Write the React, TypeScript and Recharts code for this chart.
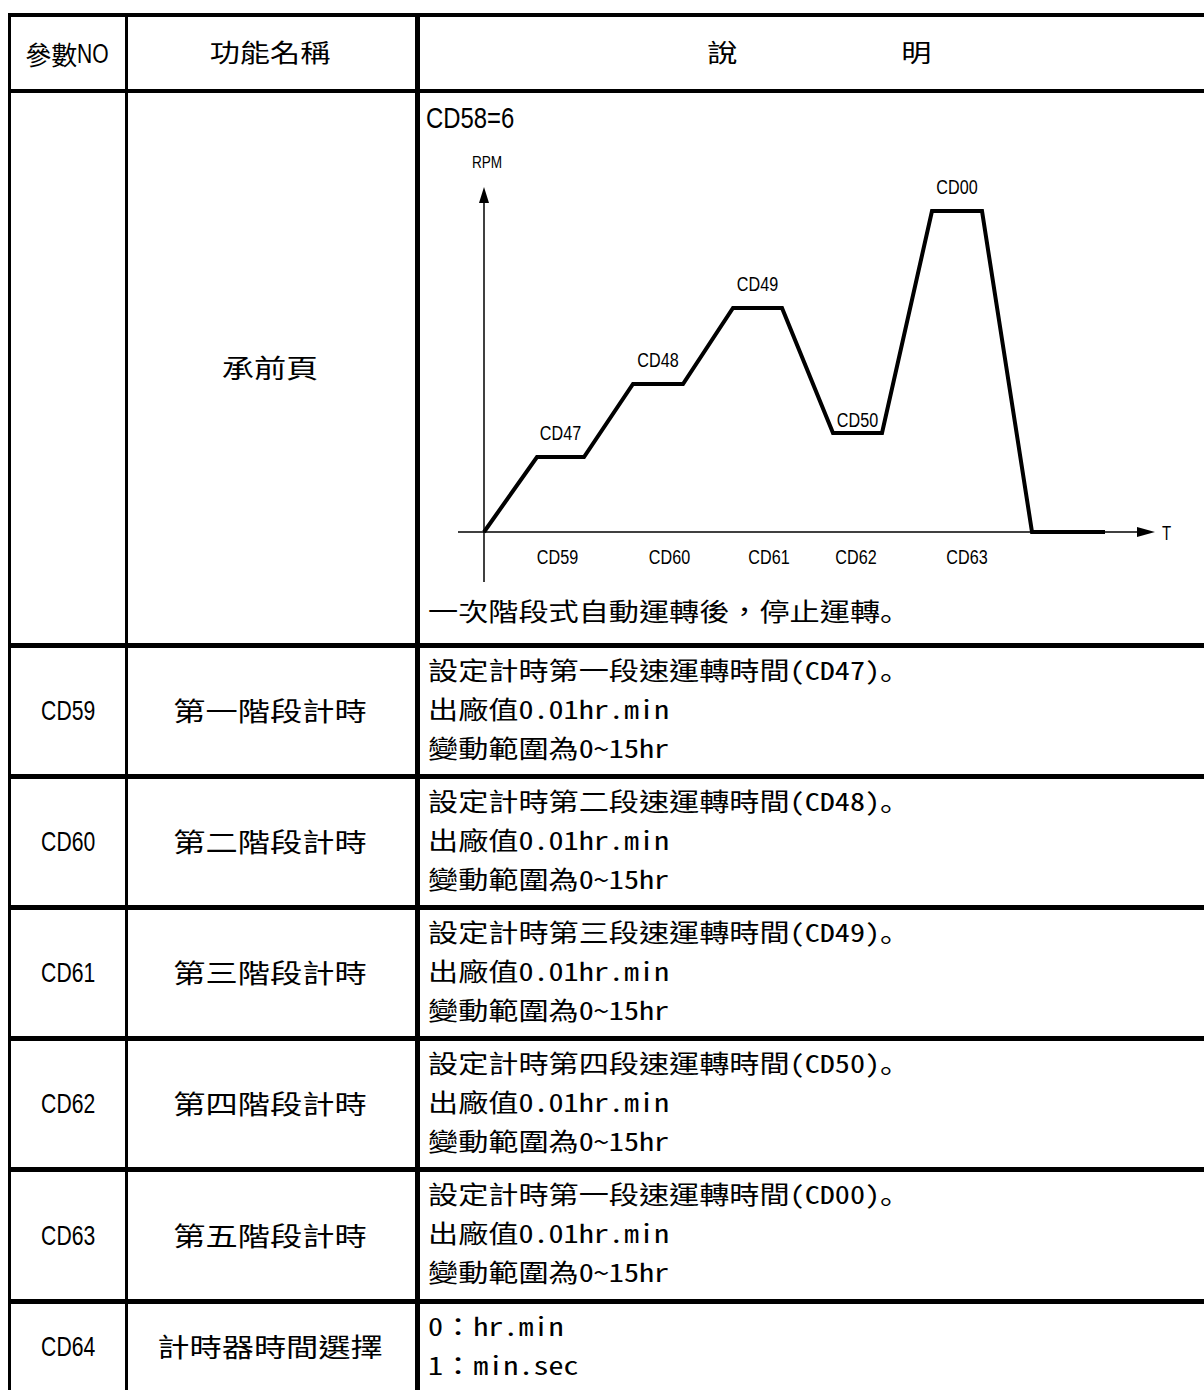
import React from 'react';
import { LineChart, Line, XAxis, YAxis, ReferenceLine, ReferenceDot } from 'recharts';

// ---- chart data (time units, rpm units) ----
const timeT = [0, 53, 100, 149, 199, 249, 298, 349, 398, 448, 498, 548, 621];
const rpmValues = [0, 75, 75, 148, 148, 224, 224, 99, 99, 321, 321, 0, 0];
const speedLabels = ['CD47', 'CD48', 'CD49', 'CD50', 'CD00'];
const speedLabelT = [76.5, 174, 273.5, 373.5, 473];
const speedLabelRpm = [75, 148, 224, 99, 321];
const phaseLabels = ['CD59', 'CD60', 'CD61', 'CD62', 'CD63'];
const phaseLabelT = [73.5, 185.5, 285, 372, 483];
const tDomain = [-26, 671];
const rpmDomain = [-50, 345];
const yAxisName = 'RPM';
const xAxisName = 'T';

// ---- table text ----
const headerParamCjk = '參數';
const headerParamLatin = 'NO';
const headerFunc = '功能名稱';
const headerDesc = ['說', '明'];
const chartRowName = '承前頁';
const chartRowTitle = 'CD58=6';
const chartRowNote = '一次階段式自動運轉後，停止運轉。';
const paramNos = ['CD59', 'CD60', 'CD61', 'CD62', 'CD63', 'CD64'];
const funcNames = ['第一階段計時', '第二階段計時', '第三階段計時', '第四階段計時', '第五階段計時', '計時器時間選擇'];
const descLine1 = [
  '設定計時第一段速運轉時間(CD47)。',
  '設定計時第二段速運轉時間(CD48)。',
  '設定計時第三段速運轉時間(CD49)。',
  '設定計時第四段速運轉時間(CD50)。',
  '設定計時第一段速運轉時間(CD00)。',
  '0：hr.min',
];
const descLine2 = ['出廠值0.01hr.min', '出廠值0.01hr.min', '出廠值0.01hr.min', '出廠值0.01hr.min', '出廠值0.01hr.min', '1：min.sec'];
const descLine3 = ['變動範圍為0~15hr', '變動範圍為0~15hr', '變動範圍為0~15hr', '變動範圍為0~15hr', '變動範圍為0~15hr', ''];

const FONT_CJK = '"Noto Sans Mono CJK TC", "Noto Sans CJK TC", sans-serif';
const FONT_CJK_PLAIN = '"Noto Sans CJK TC", sans-serif';
const FONT_PUNCT = '"Noto Sans Mono CJK JP", "Noto Sans CJK JP", "Noto Sans CJK TC", sans-serif';
const FONT_LATIN = '"Liberation Sans", Arial, sans-serif';

// layout
const ROW_LINES = [643, 774, 905, 1036, 1167, 1299];
const LINE_H = 5;
const COL1_CX = 68;
const COL2_CX = 270;
const DESC_X = 428;

function withPunct(text: string) {
  const parts = text.split(/(。)/);
  return parts.map((s, i) =>
    s === '。' ? (
      <span key={i} style={{ fontFamily: FONT_PUNCT }}>
        {s}
      </span>
    ) : (
      s
    ),
  );
}

function CjkText({ text, x, cy, center, size = 24.5, scale = 1.23 }: { text: string; x: number; cy: number; center?: boolean; size?: number; scale?: number }) {
  return (
    <div
      style={{
        position: 'absolute',
        left: center ? x - 300 : x,
        width: center ? 600 : undefined,
        top: cy - 16,
        height: 30,
        textAlign: center ? 'center' : 'left',
        whiteSpace: 'nowrap',
      }}
    >
      <span
        style={{
          display: 'inline-block',
          fontFamily: FONT_CJK,
          fontSize: size,
          lineHeight: '30px',
          transform: `scaleX(${scale})`,
          transformOrigin: center ? 'center' : 'left',
          color: '#000',
        }}
      >
        {withPunct(text)}
      </span>
    </div>
  );
}

function NarrowText({ text, x, cy, size, center, sx = 0.8 }: { text: string; x: number; cy: number; size: number; center?: boolean; sx?: number }) {
  return (
    <div
      style={{
        position: 'absolute',
        left: center ? x - 100 : x,
        width: center ? 200 : undefined,
        top: cy - 20,
        height: 40,
        lineHeight: '40px',
        textAlign: center ? 'center' : 'left',
        whiteSpace: 'nowrap',
      }}
    >
      <span
        style={{
          display: 'inline-block',
          fontFamily: FONT_LATIN,
          fontSize: size,
          transform: `scaleX(${sx})`,
          transformOrigin: center ? 'center' : 'left',
          color: '#000',
        }}
      >
        {text}
      </span>
    </div>
  );
}

const hLine = (top: number, h: number, key: string) => (
  <div key={key} style={{ position: 'absolute', left: 8, width: 1196, top, height: h, background: '#000' }} />
);
const vLine = (left: number, w: number, key: string) => (
  <div key={key} style={{ position: 'absolute', left, width: w, top: 13, height: 1377, background: '#000' }} />
);

function svgText(text: string, dx: number, dy: number, size: number, sx: number, anchor: 'middle' | 'start') {
  return (p: any) => (
    <text
      x={0}
      y={0}
      transform={`translate(${p.cx + dx},${p.cy + dy}) scale(${sx},1)`}
      textAnchor={anchor}
      fontFamily={FONT_LATIN}
      fontSize={size}
      fill="#000"
    >
      {text}
    </text>
  );
}

function SpeedChart() {
  const data = timeT.map((t, i) => ({ t, rpm: rpmValues[i] }));
  return (
    <LineChart width={747} height={462} data={data} margin={{ top: 47, right: 30, bottom: 20, left: 20 }}>
      <XAxis dataKey="t" type="number" domain={tDomain} hide allowDataOverflow />
      <YAxis type="number" domain={rpmDomain} hide allowDataOverflow />
      <ReferenceLine segment={[{ x: tDomain[0], y: 0 }, { x: 655, y: 0 }]} stroke="#000" strokeWidth={1.5} ifOverflow="visible" />
      <ReferenceLine segment={[{ x: 0, y: rpmDomain[0] }, { x: 0, y: 330 }]} stroke="#000" strokeWidth={1.5} ifOverflow="visible" />
      <ReferenceDot
        x={tDomain[1]}
        y={0}
        r={5}
        ifOverflow="visible"
        shape={(p: any) => <path d={`M${p.cx},${p.cy} l-18,-5 l0,10 z`} fill="#000" />}
      />
      <ReferenceDot x={tDomain[1]} y={0} r={0} ifOverflow="visible" shape={svgText(xAxisName, 7, 7.5, 20, 0.75, 'start')} />
      <ReferenceDot
        x={0}
        y={rpmDomain[1]}
        r={5}
        ifOverflow="visible"
        shape={(p: any) => <path d={`M${p.cx},${p.cy} l-5,16 l10,0 z`} fill="#000" />}
      />
      <ReferenceDot x={0} y={rpmDomain[1]} r={0} ifOverflow="visible" shape={svgText(yAxisName, 3, -19, 16, 0.85, 'middle')} />
      <Line
        type="linear"
        dataKey="rpm"
        stroke="#000"
        strokeWidth={4}
        strokeLinejoin="miter"
        dot={false}
        activeDot={false}
        isAnimationActive={false}
      />
      {speedLabels.map((name, i) => (
        <ReferenceDot
          key={name}
          x={speedLabelT[i]}
          y={speedLabelRpm[i]}
          r={0}
          ifOverflow="visible"
          shape={svgText(name, 0, name === 'CD50' ? -6 : -17, 19.5, 0.83, 'middle')}
        />
      ))}
      {phaseLabels.map((name, i) => (
        <ReferenceDot key={name} x={phaseLabelT[i]} y={0} r={0} ifOverflow="visible" shape={svgText(name, 0, 32, 19.5, 0.83, 'middle')} />
      ))}
    </LineChart>
  );
}

export default function App() {
  const rowTops = ROW_LINES.map((y) => y + LINE_H);
  return (
    <div style={{ position: 'absolute', left: 0, top: 0, width: 1204, height: 1390, overflow: 'hidden', background: '#fff' }}>
      {/* grid */}
      {hLine(13, 4, 'top')}
      {hLine(89, 4, 'hdr')}
      {ROW_LINES.map((y, i) => hLine(y, LINE_H, 'r' + i))}
      {vLine(8, 3, 'v0')}
      {vLine(125, 3, 'v1')}
      {vLine(415, 5, 'v2')}

      {/* header */}
      <div style={{ position: 'absolute', left: 11, width: 114, top: 33, height: 40, lineHeight: '40px', textAlign: 'center', whiteSpace: 'nowrap' }}>
        <span style={{ fontFamily: FONT_CJK_PLAIN, fontSize: 26, color: '#000', verticalAlign: 'middle' }}>{headerParamCjk}</span>
        <span style={{ display: 'inline-block', fontFamily: FONT_LATIN, fontSize: 27, transform: 'scaleX(0.78)', transformOrigin: 'left', marginRight: -7, color: '#000', verticalAlign: 'middle' }}>
          {headerParamLatin}
        </span>
      </div>
      <CjkText text={headerFunc} x={COL2_CX} cy={53} center />
      <CjkText text={headerDesc[0]} x={722} cy={53} center />
      <CjkText text={headerDesc[1]} x={916} cy={53} center />

      {/* chart row */}
      <CjkText text={chartRowName} x={COL2_CX} cy={368} center size={26} scale={1.24} />
      <NarrowText text={chartRowTitle} x={426} cy={118} size={29.5} sx={0.81} />
      <div style={{ position: 'absolute', left: 438, top: 140 }}>
        <SpeedChart />
      </div>
      <CjkText text={chartRowNote} x={DESC_X} cy={612} />

      {/* parameter rows */}
      {paramNos.map((no, i) => {
        const top = rowTops[i];
        const rowBottom = i + 1 < ROW_LINES.length ? ROW_LINES[i + 1] : top + 86;
        const cy = (top + rowBottom) / 2;
        return (
          <React.Fragment key={no}>
            <NarrowText text={no} x={COL1_CX} cy={cy} size={27.5} sx={0.77} center />
            <CjkText text={funcNames[i]} x={COL2_CX} cy={cy} center size={26} scale={1.24} />
            <CjkText text={descLine1[i]} x={DESC_X} cy={top + 23} />
            <CjkText text={descLine2[i]} x={DESC_X} cy={top + 62} />
            {descLine3[i] ? <CjkText text={descLine3[i]} x={DESC_X} cy={top + 101} /> : null}
          </React.Fragment>
        );
      })}
    </div>
  );
}
